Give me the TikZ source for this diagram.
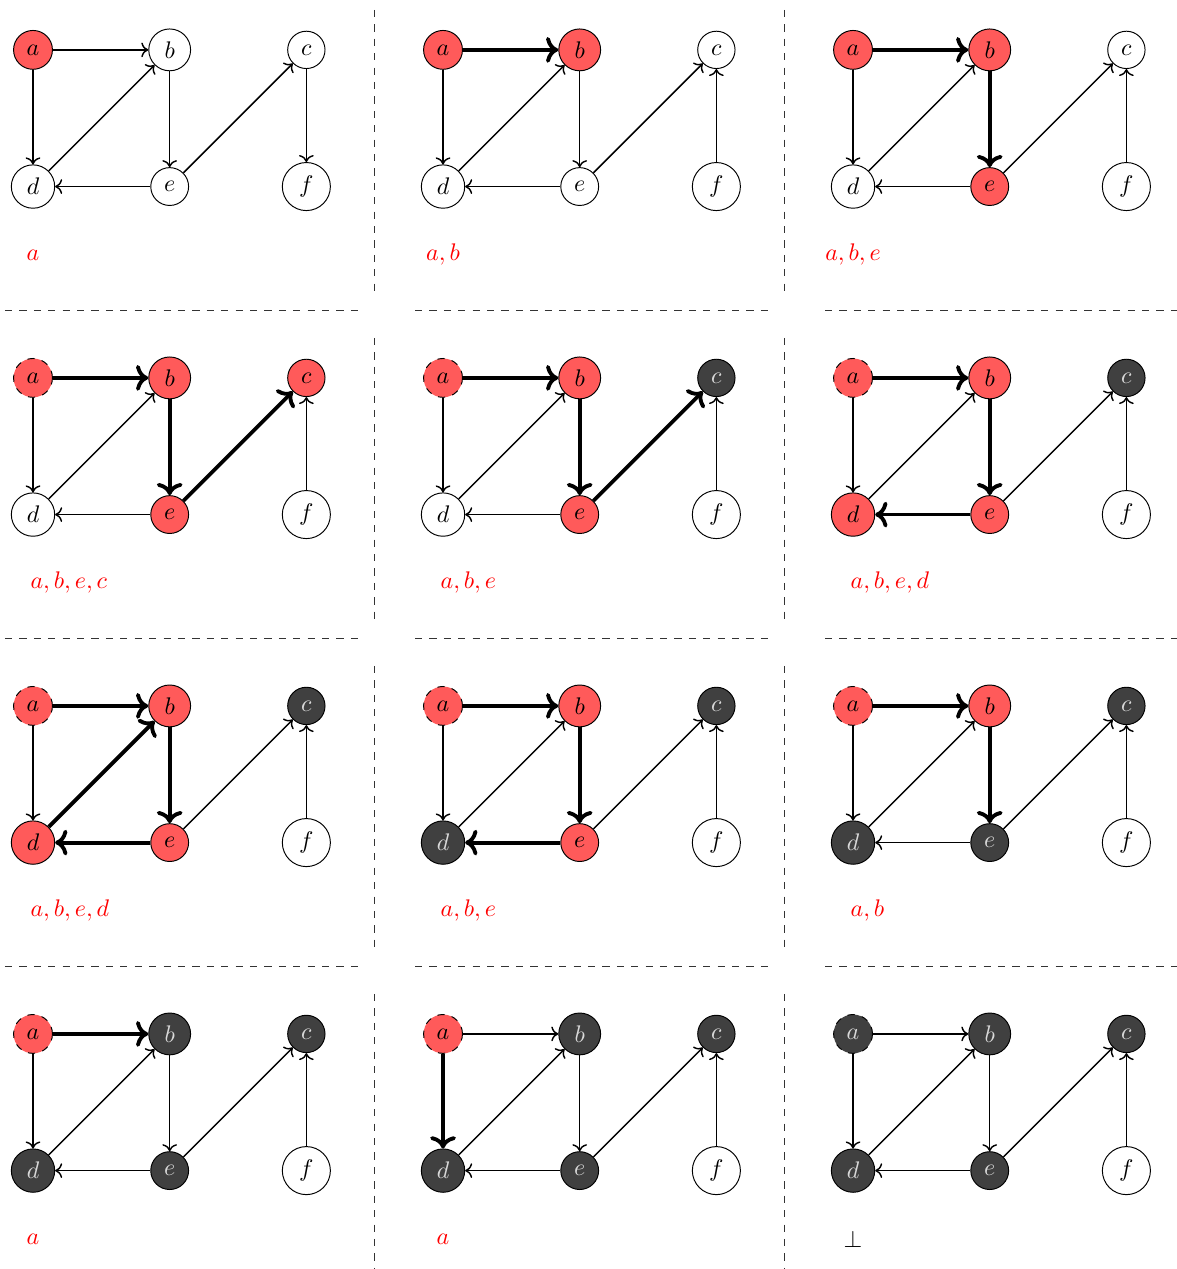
\documentclass[tikz,border=0pt]{standalone}
\usepackage{xcolor}
\usepackage{tikz}
\usetikzlibrary{arrows.meta, positioning}
\definecolor{stackred}{RGB}{255, 90, 90}
\definecolor{donegray}{RGB}{64, 64, 64}

% one snapshot of the search: node/edge looks come from the scope options
\newcommand{\dfsgraph}{%
    \node[vtx, na] (a) at (0,0) {$a$};
    \node[vtx, nb] (b) at (2,0) {$b$};
    \node[vtx, nc] (c) at (4,0) {$c$};
    \node[vtx, nd] (d) at (0,-2) {$d$};
    \node[vtx, ne] (e) at (2,-2) {$e$};
    \node[vtx] (f) at (4,-2) {$f$};
    \draw[edge, eab] (a) -- (b);
    \draw[edge, ead] (a) -- (d);
    \draw[edge, edb] (d) -- (b);
    \draw[edge, ebe] (b) -- (e);
    \draw[edge, eed] (e) -- (d);
    \draw[edge, eec] (e) -- (c);
    \draw[edge, efc] (f) -- (c);
}

\begin{document}
\begin{tikzpicture}[
    vtx/.style={circle, draw, fill=white},
    onstack/.style={fill=stackred},
    finished/.style={fill=donegray, text=white!85!black},
    edge/.style={->, semithick},
    tree/.style={ultra thick},
    lbl/.style={text=red},
    sep/.style={dashed, black!80},
    na/.style={}, nb/.style={}, nc/.style={}, nd/.style={}, ne/.style={},
    eab/.style={}, ead/.style={}, edb/.style={}, ebe/.style={},
    eed/.style={}, eec/.style={}, efc/.style={}
]
    \useasboundingbox (-0.483,0.73) rectangle (16.73,-17.84);

    % separators
    \foreach \y in {-3.82,-8.62,-13.42}
        \foreach \x in {0,6,12}
            \draw[sep] (\x-0.41,\y) -- (\x+4.79,\y);
    \foreach \x in {5,11}
        \foreach \y in {0,-4.8,-9.6,-14.4}
            \draw[sep] (\x,\y+0.585) -- (\x,\y-3.54);

    % row 1
    \begin{scope}[name prefix=p1-, na/.style=onstack, efc/.style={<-}]
        \dfsgraph
        \node[lbl] (lbl) at (0,-3) {$a$};
    \end{scope}
    \begin{scope}[shift={(6,0)}, name prefix=p2-, na/.style=onstack,
                  nb/.style=onstack, eab/.style=tree]
        \dfsgraph
        \node[lbl] (lbl) at (0,-3) {$a, b$};
    \end{scope}
    \begin{scope}[shift={(12,0)}, name prefix=p3-, na/.style=onstack,
                  nb/.style=onstack, ne/.style=onstack,
                  eab/.style=tree, ebe/.style=tree]
        \dfsgraph
        \node[lbl] (lbl) at (0,-3) {$a, b, e$};
    \end{scope}

    % row 2
    \begin{scope}[shift={(0,-4.8)}, name prefix=p4-, na/.style={onstack, dashed},
                  nb/.style=onstack, ne/.style=onstack, nc/.style=onstack,
                  eab/.style=tree, ebe/.style=tree, eec/.style=tree]
        \dfsgraph
        \node[lbl, anchor=west] (lbl) at (-0.16,-3) {$a, b, e, c$};
    \end{scope}
    \begin{scope}[shift={(6,-4.8)}, name prefix=p5-, na/.style={onstack, dashed},
                  nb/.style=onstack, ne/.style=onstack, nc/.style=finished,
                  eab/.style=tree, ebe/.style=tree, eec/.style=tree]
        \dfsgraph
        \node[lbl, anchor=west] (lbl) at (-0.16,-3) {$a, b, e$};
    \end{scope}
    \begin{scope}[shift={(12,-4.8)}, name prefix=p6-, na/.style={onstack, dashed},
                  nb/.style=onstack, ne/.style=onstack, nd/.style=onstack,
                  nc/.style=finished,
                  eab/.style=tree, ebe/.style=tree, eed/.style=tree]
        \dfsgraph
        \node[lbl, anchor=west] (lbl) at (-0.16,-3) {$a, b, e, d$};
    \end{scope}

    % row 3
    \begin{scope}[shift={(0,-9.6)}, name prefix=p7-, na/.style={onstack, dashed},
                  nb/.style=onstack, ne/.style=onstack, nd/.style=onstack,
                  nc/.style=finished,
                  eab/.style=tree, ebe/.style=tree, eed/.style=tree, edb/.style=tree]
        \dfsgraph
        \node[lbl, anchor=west] (lbl) at (-0.16,-3) {$a, b, e, d$};
    \end{scope}
    \begin{scope}[shift={(6,-9.6)}, name prefix=p8-, na/.style={onstack, dashed},
                  nb/.style=onstack, ne/.style=onstack,
                  nc/.style=finished, nd/.style=finished,
                  eab/.style=tree, ebe/.style=tree, eed/.style=tree]
        \dfsgraph
        \node[lbl, anchor=west] (lbl) at (-0.16,-3) {$a, b, e$};
    \end{scope}
    \begin{scope}[shift={(12,-9.6)}, name prefix=p9-, na/.style={onstack, dashed},
                  nb/.style=onstack,
                  nc/.style=finished, nd/.style=finished, ne/.style=finished,
                  eab/.style=tree, ebe/.style=tree]
        \dfsgraph
        \node[lbl, anchor=west] (lbl) at (-0.16,-3) {$a, b$};
    \end{scope}

    % row 4
    \begin{scope}[shift={(0,-14.4)}, name prefix=p10-, na/.style={onstack, dashed},
                  nb/.style=finished, nc/.style=finished,
                  nd/.style=finished, ne/.style=finished,
                  eab/.style=tree]
        \dfsgraph
        \node[lbl] (lbl) at (0,-3) {$a$};
    \end{scope}
    \begin{scope}[shift={(6,-14.4)}, name prefix=p11-, na/.style={onstack, dashed},
                  nb/.style=finished, nc/.style=finished,
                  nd/.style=finished, ne/.style=finished,
                  ead/.style=tree]
        \dfsgraph
        \node[lbl] (lbl) at (0,-3) {$a$};
    \end{scope}
    \begin{scope}[shift={(12,-14.4)}, name prefix=p12-, na/.style={finished, dashed},
                  nb/.style=finished, nc/.style=finished,
                  nd/.style=finished, ne/.style=finished]
        \dfsgraph
        \node (lbl) at (0,-3) {$\bot$};
    \end{scope}
\end{tikzpicture}
\end{document}
